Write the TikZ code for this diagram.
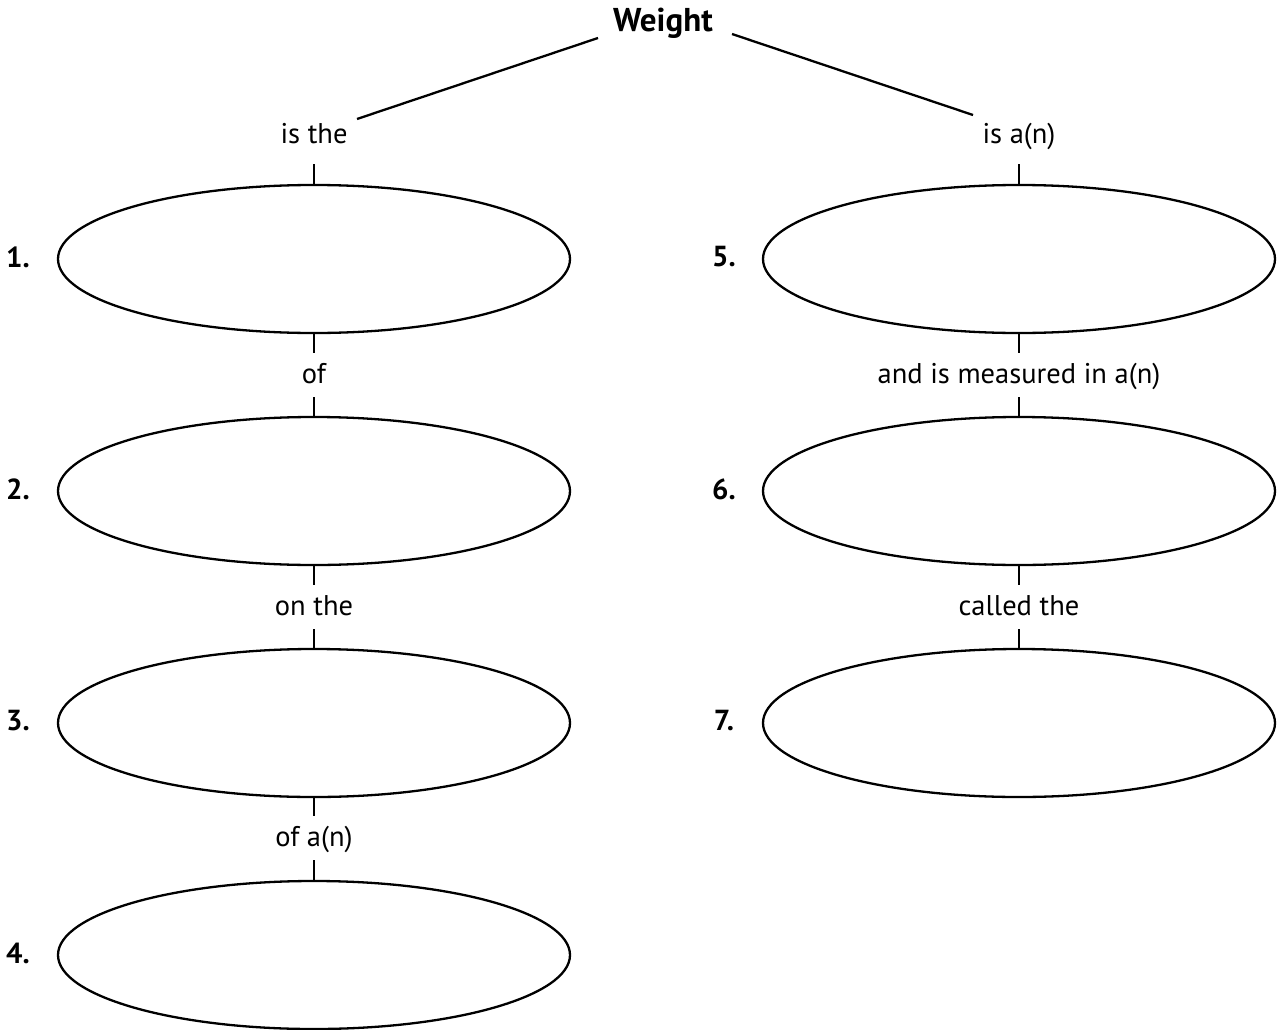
\documentclass[tikz,border=0pt]{standalone}
\usepackage{fontspec}
\setmainfont{PT Sans}
\usetikzlibrary{shapes.geometric}
\begin{document}
\begin{tikzpicture}[x=1pt,y=-1pt,
  line width=2.3pt,
  blank/.style={draw, ellipse, minimum width=512pt, minimum height=148pt, inner sep=0pt},
  link/.style={font=\fontsize{28.5}{32}\selectfont, inner sep=0pt, minimum height=42pt,
               text height=21pt, text depth=5pt},
  num/.style={font=\fontsize{29}{32}\selectfont\bfseries, inner sep=0pt},
  title/.style={font=\fontsize{33}{36}\selectfont\bfseries, inner sep=0pt}]
  \useasboundingbox (0,0) rectangle (1279,1030);

  % top concept
  \node[title] (weight) at (663,23) {Weight};

  % left column
  \node[link] (isthe) at (314,135) {is the};
  \node[blank] (e1) at (314,259) {};
  \node[link] (of) at (314,375) {of};
  \node[blank] (e2) at (314,491) {};
  \node[link] (onthe) at (314,607) {on the};
  \node[blank] (e3) at (314,723) {};
  \node[link] (ofan) at (314,838) {of a(n)};
  \node[blank] (e4) at (314,955) {};

  % right column
  \node[link] (isan) at (1019,135) {is a(n)};
  \node[blank] (e5) at (1019,259) {};
  \node[link] (measured) at (1019,375) {and is measured in a(n)};
  \node[blank] (e6) at (1019,491) {};
  \node[link] (called) at (1019,607) {called the};
  \node[blank] (e7) at (1019,723) {};

  % numbering
  \node[num] (n1) at (18,257) {1.};
  \node[num] (n2) at (18,489) {2.};
  \node[num] (n3) at (18,721) {3.};
  \node[num] (n4) at (18,953) {4.};
  \node[num] (n5) at (724,257) {5.};
  \node[num] (n6) at (724,489) {6.};
  \node[num] (n7) at (724,721) {7.};

  % branch ends around the title
  \coordinate (wl) at (598,38);
  \coordinate (tl) at (357,119);
  \coordinate (wr) at (732,34);
  \coordinate (tr) at (973,115);
  \draw (wl) -- (tl);
  \draw (wr) -- (tr);

  % vertical links
  \draw[shorten <=7pt] (isthe.south) -- (e1.north);
  \draw (e1.south) -- (of.north);
  \draw (of.south) -- (e2.north);
  \draw (e2.south) -- (onthe.north);
  \draw (onthe.south) -- (e3.north);
  \draw (e3.south) -- (ofan.north);
  \draw (ofan.south) -- (e4.north);

  \draw[shorten <=7pt] (isan.south) -- (e5.north);
  \draw (e5.south) -- (measured.north);
  \draw (measured.south) -- (e6.north);
  \draw (e6.south) -- (called.north);
  \draw (called.south) -- (e7.north);
\end{tikzpicture}
\end{document}
